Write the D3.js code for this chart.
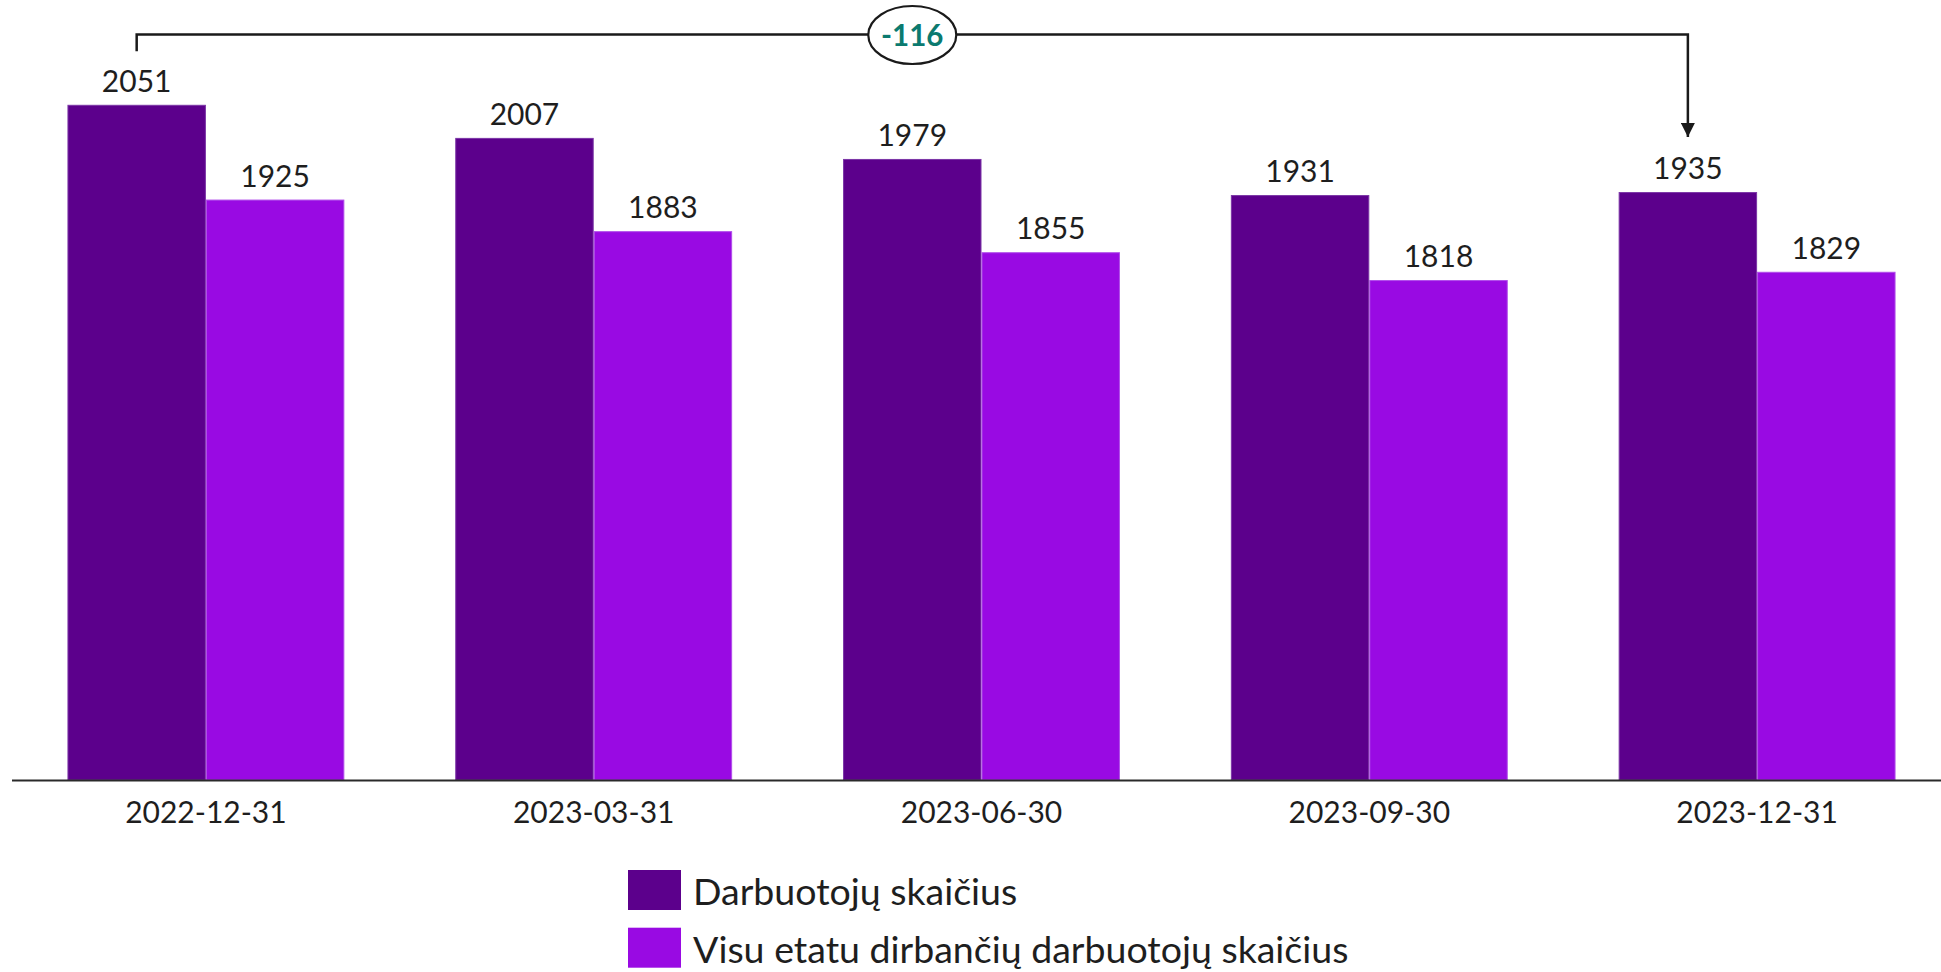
<!DOCTYPE html>
<html>
<head>
<meta charset="utf-8">
<script src="https://cdn.jsdelivr.net/npm/d3@7"></script>
<style>
  html, body { margin: 0; padding: 0; background: #fff; }
  svg { display: block; }
  text { font-family: "Lato", "Open Sans", sans-serif; fill: #1e1e1e; }
</style>
</head>
<body>
<svg id="chart" width="1941" height="972"></svg>
<script>
const categories = ["2022-12-31", "2023-03-31", "2023-06-30", "2023-09-30", "2023-12-31"];
const seriesNames = ["Darbuotojų skaičius", "Visu etatu dirbančių darbuotojų skaičius"];
const employees = [2051, 2007, 1979, 1931, 1935];
const fullTime = [1925, 1883, 1855, 1818, 1829];
const colors = ["#5c008c", "#990ae3"];
const strokes = ["#7b35a6", "#b04cea"];

const svg = d3.select("#chart");
const W = 1941, H = 972;
const baseY = 780;

const x0 = d3.scaleBand().domain(categories).range([12, 1951]).paddingInner(0.286).paddingOuter(0.143);
const x1 = d3.scaleBand().domain([0, 1]).range([0, x0.bandwidth()]);
const y = d3.scaleLinear().domain([1154, 2051]).range([baseY, 105.3]);

const series = [employees, fullTime];

const groups = svg.append("g").selectAll("g").data(categories).join("g")
  .attr("transform", d => `translate(${x0(d)},0)`);

groups.selectAll("rect").data((d, i) => series.map((s, k) => ({k, v: s[i]}))).join("rect")
  .attr("x", d => x1(d.k) + 0.5)
  .attr("y", d => y(d.v))
  .attr("width", x1.bandwidth() - 1)
  .attr("height", d => baseY - y(d.v))
  .attr("fill", d => colors[d.k])
  .attr("stroke", d => strokes[d.k])
  .attr("stroke-width", 1);

groups.selectAll("text.val").data((d, i) => series.map((s, k) => ({k, v: s[i]}))).join("text")
  .attr("class", "val")
  .attr("x", d => x1(d.k) + x1.bandwidth() / 2)
  .attr("y", d => y(d.v) - 13.5)
  .attr("text-anchor", "middle")
  .attr("font-size", 30)
  .text(d => d.v);

// x axis
const axis = svg.append("g").attr("transform", `translate(0,${baseY})`)
  .call(d3.axisBottom(x0).tickSize(0).tickPadding(0));
axis.select(".domain").remove();
axis.selectAll(".tick text")
  .attr("y", 42.5)
  .attr("dy", 0)
  .attr("font-size", 30)
  .style("font-family", "Lato, 'Open Sans', sans-serif")
  .attr("fill", "#1e1e1e");
svg.append("line")
  .attr("x1", 12).attr("x2", W).attr("y1", baseY + 0.5).attr("y2", baseY + 0.5)
  .attr("stroke", "#2a2a2a").attr("stroke-width", 2);

// annotation bracket
const first = categories[0], last = categories[categories.length - 1];
const xa = x0(first) + x1(0) + x1.bandwidth() / 2;
const xb = x0(last) + x1(0) + x1.bandwidth() / 2;
const topY = 34.5;
const delta = employees[employees.length - 1] - employees[0];

svg.append("defs").append("marker")
  .attr("id", "arrow").attr("viewBox", "0 0 10 10")
  .attr("refX", 10).attr("refY", 5)
  .attr("markerWidth", 15).attr("markerHeight", 14)
  .attr("markerUnits", "userSpaceOnUse")
  .attr("orient", "auto")
  .append("path").attr("d", "M0,0 L10,5 L0,10 Z").attr("fill", "#1a1a1a");

svg.append("path")
  .attr("d", `M${xa},${y(employees[0]) - 54} V${topY} H${xb} V${y(employees[employees.length - 1]) - 55.5}`)
  .attr("fill", "none").attr("stroke", "#1a1a1a").attr("stroke-width", 2.5)
  .attr("marker-end", "url(#arrow)");

const cx = (xa + xb) / 2;
svg.append("ellipse")
  .attr("cx", cx).attr("cy", 35).attr("rx", 44).attr("ry", 29)
  .attr("fill", "#fff").attr("stroke", "#1a1a1a").attr("stroke-width", 2.2);
svg.append("text")
  .attr("x", cx).attr("y", 45.5)
  .attr("text-anchor", "middle")
  .attr("font-size", 29.5).attr("font-weight", "bold")
  .style("fill", "#0b7a6f")
  .text(delta);

// legend
const legend = svg.append("g");
seriesNames.forEach((name, i) => {
  const ly = 870 + i * 57.7;
  legend.append("rect").attr("x", 628).attr("y", ly).attr("width", 53).attr("height", 40).attr("fill", colors[i]);
  legend.append("text").attr("x", 693).attr("y", ly + 35).attr("font-size", 37.5).text(name);
});
</script>
</body>
</html>
